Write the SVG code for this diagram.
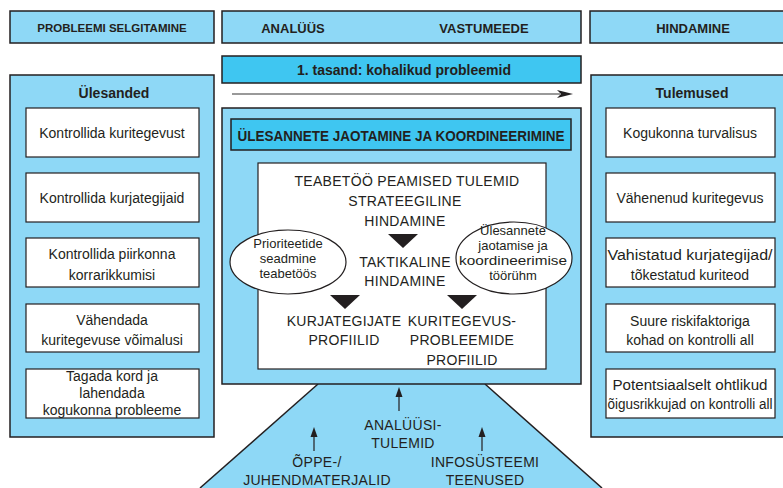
<svg xmlns="http://www.w3.org/2000/svg" width="783" height="488" viewBox="0 0 783 488">
<style>
.lb{fill:#8ed8f6;stroke:#231f20;stroke-width:1.5}
.bb{fill:#3fc6f1;stroke:#231f20;stroke-width:1.5}
.wb{fill:#fff;stroke:#231f20;stroke-width:1.2}
text{font-family:"Liberation Sans",Arial,sans-serif;fill:#231f20;text-anchor:middle}
.h{font-size:11.5px;font-weight:bold}
.t{font-size:13px;font-weight:bold}
.tt{font-size:14px;font-weight:bold}
.n{font-size:14px}
.c{font-size:14px;letter-spacing:0.3px}
.e{font-size:13px}
</style>

<g id="header-left">
<rect class="lb" x="10" y="11" width="204" height="32"/>
<text class="h" x="112" y="32">PROBLEEMI SELGITAMINE</text>
</g>
<g id="header-mid">
<rect class="lb" x="222" y="11" width="359" height="32"/>
<text class="t" x="293" y="33">ANALÜÜS</text>
<text class="t" x="484" y="33">VASTUMEEDE</text>
</g>
<g id="header-right">
<rect class="lb" x="590" y="11" width="210" height="32"/>
<text class="t" x="693" y="33">HINDAMINE</text>
</g>
<g id="level">
<rect class="bb" x="222" y="56" width="359" height="27"/>
<text class="tt" x="404" y="75">1. tasand: kohalikud probleemid</text>
</g>

<g id="panel-left">
<rect class="lb" x="10" y="75" width="204" height="362"/>
<text class="tt" x="114" y="98">Ülesanded</text>
</g>
<g id="task1"><rect class="wb" x="26" y="108" width="173" height="49"/><text class="n" x="112" y="138">Kontrollida kuritegevust</text></g>
<g id="task2"><rect class="wb" x="26" y="173" width="173" height="49"/><text class="n" x="112" y="203">Kontrollida kurjategijaid</text></g>
<g id="task3"><rect class="wb" x="26" y="238" width="173" height="49"/><text class="n" x="112" y="259">Kontrollida piirkonna</text><text class="n" x="112" y="280">korrarikkumisi</text></g>
<g id="task4"><rect class="wb" x="26" y="304" width="173" height="48"/><text class="n" x="112" y="325">Vähendada</text><text class="n" x="112" y="345">kuritegevuse võimalusi</text></g>
<g id="task5"><rect class="wb" x="26" y="369" width="173" height="49"/><text class="n" x="112" y="381">Tagada kord ja</text><text class="n" x="112" y="398">lahendada</text><text class="n" x="112" y="415">kogukonna probleeme</text></g>

<g id="panel-right">
<rect class="lb" x="591" y="75" width="210" height="362"/>
<text class="tt" x="692" y="98">Tulemused</text>
</g>
<g id="res1"><rect class="wb" x="606" y="108" width="169" height="49"/><text class="n" x="690" y="138">Kogukonna turvalisus</text></g>
<g id="res2"><rect class="wb" x="606" y="173" width="169" height="49"/><text class="n" x="690" y="203">Vähenenud kuritegevus</text></g>
<g id="res3"><rect class="wb" x="606" y="238" width="169" height="49"/><text class="n" x="690" y="260" textLength="165" lengthAdjust="spacingAndGlyphs">Vahistatud kurjategijad/</text><text class="n" x="690" y="280">tõkestatud kuriteod</text></g>
<g id="res4"><rect class="wb" x="606" y="304" width="169" height="48"/><text class="n" x="690" y="326">Suure riskifaktoriga</text><text class="n" x="690" y="345">kohad on kontrolli all</text></g>
<g id="res5"><rect class="wb" x="606" y="369" width="169" height="49"/><text class="n" x="690" y="390" textLength="155" lengthAdjust="spacingAndGlyphs">Potentsiaalselt ohtlikud</text><text class="n" x="690" y="409" textLength="165" lengthAdjust="spacingAndGlyphs">õigusrikkujad on kontrolli all</text></g>

<g id="base">
<polygon points="318,384 485,384 602,488 200,488" fill="#8ed8f6"/>
<line x1="318" y1="384" x2="200" y2="488" stroke="#231f20" stroke-width="1.5"/>
<line x1="485" y1="384" x2="602" y2="488" stroke="#231f20" stroke-width="1.5"/>
<text class="c" x="403" y="430">ANALÜÜSI-</text>
<text class="c" x="403" y="448">TULEMID</text>
<text class="c" x="317" y="467">ÕPPE-/</text>
<text class="c" x="317" y="485">JUHENDMATERJALID</text>
<text class="c" x="485" y="467">INFOSÜSTEEMI</text>
<text class="c" x="485" y="485">TEENUSED</text>
</g>

<g id="center">
<rect class="lb" x="222" y="108" width="359" height="276"/>
<rect class="bb" x="231" y="119" width="340" height="31"/>
<text x="401" y="141" style="font-size:14.5px;font-weight:bold" textLength="327" lengthAdjust="spacingAndGlyphs">ÜLESANNETE JAOTAMINE JA KOORDINEERIMINE</text>
<rect class="wb" x="258" y="163" width="288" height="206"/>
<text class="c" x="407" y="186">TEABETÖÖ PEAMISED TULEMID</text>
<text class="c" x="405" y="206">STRATEEGILINE</text>
<text class="c" x="405" y="226">HINDAMINE</text>
<polygon points="388,234 418,234 403,248" fill="#231f20"/>
<text class="c" x="405" y="267">TAKTIKALINE</text>
<text class="c" x="405" y="286">HINDAMINE</text>
<polygon points="330,295 360,295 345,309" fill="#231f20"/>
<polygon points="447,295 477,295 462,309" fill="#231f20"/>
<text class="c" x="344" y="326">KURJATEGIJATE</text>
<text class="c" x="344" y="345">PROFIILID</text>
<text class="c" x="462" y="326">KURITEGEVUS-</text>
<text class="c" x="462" y="345">PROBLEEMIDE</text>
<text class="c" x="462" y="365">PROFIILID</text>
</g>
<g id="ellipse-left">
<ellipse cx="288" cy="262" rx="58" ry="32" fill="#fff" stroke="#231f20" stroke-width="1.2"/>
<text class="e" x="288" y="248">Prioriteetide</text>
<text class="e" x="288" y="263">seadmine</text>
<text class="e" x="288" y="278">teabetöös</text>
</g>
<g id="ellipse-right">
<ellipse cx="514" cy="258" rx="58" ry="36" fill="#fff" stroke="#231f20" stroke-width="1.2"/>
<text class="e" x="513" y="235">Ülesannete</text>
<text class="e" x="513" y="250">jaotamise ja</text>
<text class="e" x="513" y="265" textLength="108" lengthAdjust="spacingAndGlyphs">koordineerimise</text>
<text class="e" x="513" y="280">töörühm</text>
</g>

<g id="connectors">
<line x1="232" y1="94" x2="560" y2="94" stroke="#777" stroke-width="1.5"/>
<path d="M557,90 L573,94 L557,98 L561,94 Z" fill="#231f20"/>
<line x1="399" y1="411" x2="399" y2="396" stroke="#231f20" stroke-width="1.2"/>
<path d="M399,387 L402.5,397 L395.5,397 Z" fill="#231f20"/>
<line x1="314" y1="451" x2="314" y2="436" stroke="#231f20" stroke-width="1.2"/>
<path d="M314,427 L317.5,437 L310.5,437 Z" fill="#231f20"/>
<line x1="482" y1="451" x2="482" y2="436" stroke="#231f20" stroke-width="1.2"/>
<path d="M482,427 L485.5,437 L478.5,437 Z" fill="#231f20"/>
</g>
</svg>
